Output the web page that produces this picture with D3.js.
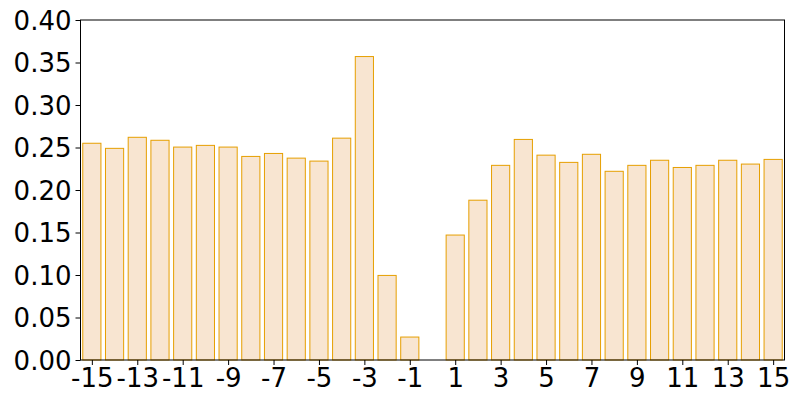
<!DOCTYPE html>
<html>
<head>
<meta charset="utf-8">
<script src="https://cdn.jsdelivr.net/npm/d3@7"></script>
<style>
  body { margin: 0; background: #fff; }
  svg { font-family: "DejaVu Sans", sans-serif; }
</style>
</head>
<body>
<svg id="chart"></svg>
<script>
// lag values and bar heights
var lags = d3.range(-15, 16)
var values = [0.255, 0.249, 0.262, 0.2585, 0.2505, 0.2525, 0.2505, 0.2395, 0.243, 0.2375, 0.234, 0.261, 0.357, 0.0995, 0.027,
              0,
              0.147, 0.188, 0.229, 0.2595, 0.241, 0.2325, 0.242, 0.222, 0.229, 0.235, 0.2265, 0.229, 0.235, 0.2305, 0.236]
var xTicks = [-15, -13, -11, -9, -7, -5, -3, -1, 1, 3, 5, 7, 9, 11, 13, 15]
var yTicks = [0, 0.05, 0.10, 0.15, 0.20, 0.25, 0.30, 0.35, 0.40]

var dimensions = {
    width: 800,
    height: 400,
    margin: { top: 20, bottom: 40, right: 15.5, left: 80.5 }
}

var svg = d3.select("#chart")
    .attr("width", dimensions.width)
    .attr("height", dimensions.height)

var xScale = d3.scaleLinear()
    .domain([-15.5, 15.5])
    .range([dimensions.margin.left, dimensions.width - dimensions.margin.right])

var yScale = d3.scaleLinear()
    .domain([0, 0.40])
    .range([dimensions.height - dimensions.margin.bottom, dimensions.margin.top])

var barW = xScale(0.8) - xScale(0)

var dataset = lags.map((lag, i) => ({ lag: lag, value: values[i] }))
    .filter(d => d.value > 0)

// bars
svg.append("g")
    .selectAll("rect")
    .data(dataset)
    .enter()
    .append("rect")
    .attr("x", d => xScale(d.lag) - barW / 2)
    .attr("y", d => yScale(d.value))
    .attr("width", barW)
    .attr("height", d => yScale(0) - yScale(d.value))
    .attr("fill", "#f8e5d1")
    .attr("stroke", "#e69f00")
    .attr("stroke-width", 1)

// frame
svg.append("rect")
    .attr("x", dimensions.margin.left)
    .attr("y", dimensions.margin.top)
    .attr("width", dimensions.width - dimensions.margin.right - dimensions.margin.left)
    .attr("height", dimensions.height - dimensions.margin.bottom - dimensions.margin.top)
    .attr("fill", "none")
    .attr("stroke", "black")
    .attr("stroke-width", 1)

var xAxisGen = d3.axisBottom(xScale)
    .tickValues(xTicks)
    .tickFormat(d => d < 0 ? "-" + Math.abs(d) : d)
    .tickSize(5)
    .tickPadding(4)

var yAxisGen = d3.axisLeft(yScale)
    .tickValues(yTicks)
    .tickFormat(d3.format(".2f"))
    .tickSize(5)
    .tickPadding(4)

var xAxis = svg.append("g")
    .attr("transform", "translate(0," + (dimensions.height - dimensions.margin.bottom) + ")")
    .call(xAxisGen)

var yAxis = svg.append("g")
    .attr("transform", "translate(" + dimensions.margin.left + ",0)")
    .call(yAxisGen)

;[xAxis, yAxis].forEach(a => {
    a.select(".domain").remove()
    a.selectAll("text")
        .style("font-size", "26px")
        .style("font-family", "DejaVu Sans")
        .attr("fill", "black")
    a.selectAll("line").attr("stroke", "black")
})
yAxis.selectAll("text").attr("dy", "0.36em")
</script>
</body>
</html>
